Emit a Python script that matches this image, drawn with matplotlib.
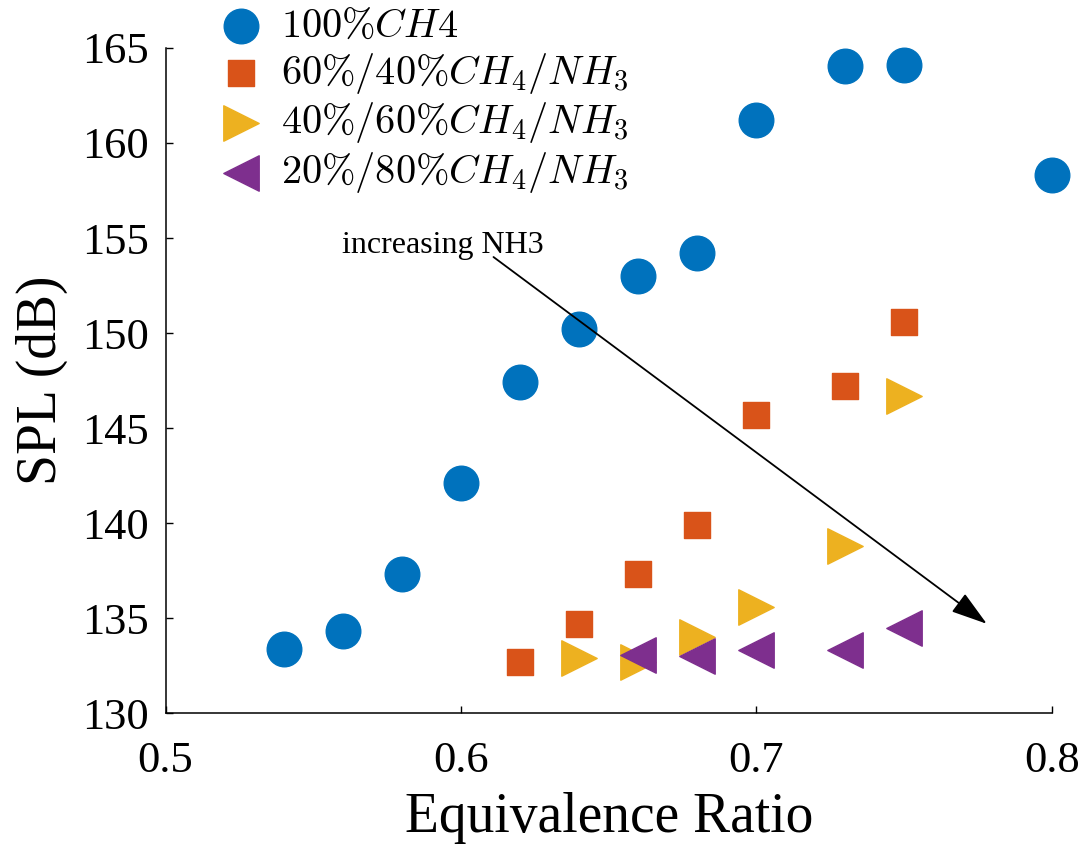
import matplotlib
matplotlib.use("Agg")
import matplotlib.pyplot as plt

plt.rcParams['font.family'] = ['Liberation Serif', 'DejaVu Serif']
plt.rcParams['mathtext.fontset'] = 'cm'

phi_ch4 = [0.54, 0.56, 0.58, 0.60, 0.62, 0.64, 0.66, 0.68, 0.70, 0.73, 0.75, 0.80]
spl_ch4 = [133.4, 134.3, 137.3, 142.1, 147.4, 150.2, 153.0, 154.2, 161.2, 164.05, 164.1, 158.3]

phi_60 = [0.62, 0.64, 0.66, 0.68, 0.70, 0.73, 0.75]
spl_60 = [132.7, 134.7, 137.3, 139.9, 145.7, 147.2, 150.6]

phi_40 = [0.64, 0.66, 0.68, 0.70, 0.73, 0.75]
spl_40 = [132.9, 132.7, 134.0, 135.6, 138.8, 146.7]

phi_20 = [0.66, 0.68, 0.70, 0.73, 0.75]
spl_20 = [133.05, 133.0, 133.3, 133.3, 134.5]

labels = [r'$100\%CH4$', r'$60\%/40\%CH_4/NH_3$', r'$40\%/60\%CH_4/NH_3$', r'$20\%/80\%CH_4/NH_3$']
colors = ['#0072BD', '#D95319', '#EDB120', '#7E2F8E']

arrow_start = (0.611, 154.0)
arrow_end = (0.778, 134.7)

fig = plt.figure(figsize=(10.86, 8.52), dpi=100)
ax = fig.add_axes([0.1525, 0.163, 0.816, 0.7807])

ax.scatter(phi_ch4, spl_ch4, s=620, marker='o', color=colors[0], label=labels[0], zorder=3, clip_on=False)
ax.scatter(phi_60, spl_60, s=370, marker='s', color=colors[1], label=labels[1], zorder=3)
ax.scatter(phi_40, spl_40, s=650, marker='>', color=colors[2], label=labels[2], zorder=3)
ax.scatter(phi_20, spl_20, s=650, marker='<', color=colors[3], label=labels[3], zorder=3)

ax.annotate('', xy=arrow_end, xytext=arrow_start,
            arrowprops=dict(arrowstyle='-|>,head_length=0.9,head_width=0.28', color='black',
                            lw=1.3, mutation_scale=25, shrinkA=0, shrinkB=0))
ax.text(0.5938, 154.6, 'increasing NH3', fontsize=23, ha='center', va='center')

ax.set_xlim(0.5, 0.8)
ax.set_ylim(130, 165)
ax.set_xticks([0.5, 0.6, 0.7, 0.8])
ax.set_xticklabels(['0.5', '0.6', '0.7', '0.8'])
ax.set_yticks([130, 135, 140, 145, 150, 155, 160, 165])
ax.tick_params(direction='in', labelsize=32, length=5, width=1)
ax.tick_params(axis='x', pad=20)
ax.tick_params(axis='y', pad=12)
for sp in ['left', 'bottom']:
    ax.spines[sp].set_linewidth(1.1)
ax.spines['top'].set_visible(False)
ax.spines['right'].set_visible(False)
ax.set_xlabel('Equivalence Ratio', fontsize=40, labelpad=8)
ax.set_ylabel('SPL (dB)', fontsize=40, labelpad=10)

ax.legend(loc='upper left', bbox_to_anchor=(0.185, 0.99), bbox_transform=fig.transFigure,
          frameon=False, fontsize=29, handletextpad=0.0, labelspacing=0.12,
          borderaxespad=0.0, borderpad=0.0)

fig.savefig('out.png', dpi=100)
